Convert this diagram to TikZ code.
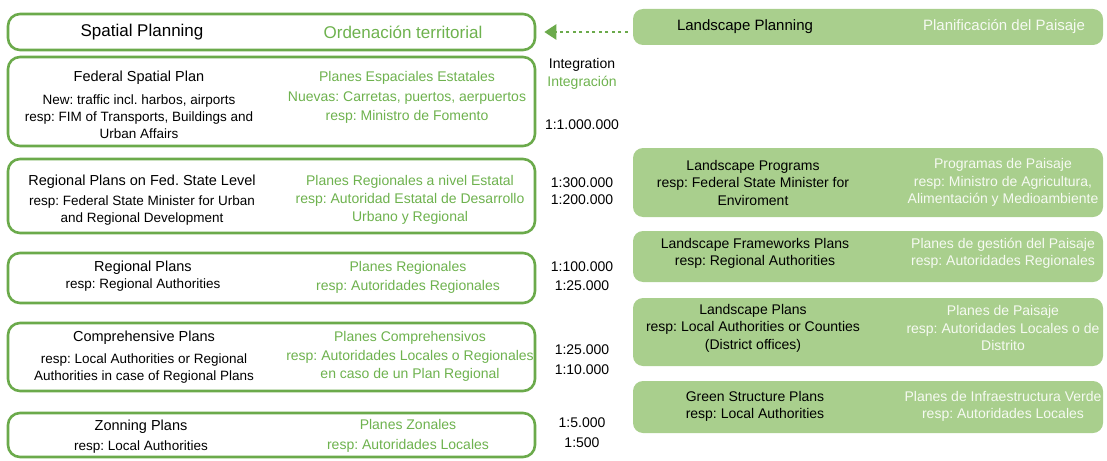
\documentclass[tikz,border=0pt]{standalone}
\usepackage{fontspec}
\setmainfont{Liberation Sans}
\usetikzlibrary{arrows.meta}
\frenchspacing

\definecolor{outl}{HTML}{6BAA4B}
\definecolor{spgreen}{HTML}{6EB24E}
\definecolor{landfill}{HTML}{A9CF8D}
\definecolor{landtext}{HTML}{F6FAF2}

\newcommand{\fs}[2]{\fontsize{#1}{#2}\selectfont}

\tikzset{
  planbox/.style={draw=outl, line width=2.6pt, rounded corners=12pt, fill=white,
    minimum width=527pt, inner sep=0pt},
  landbox/.style={fill=landfill, rounded corners=10pt, minimum width=470pt, inner sep=0pt},
  entitle/.style={text=black, align=center, inner sep=0pt, font=\fs{14.5}{16}},
  endetail/.style={text=black, align=center, inner sep=0pt, font=\fs{13.5}{16}},
  estxt/.style={text=spgreen, align=center, inner sep=0pt},
  lantxt/.style={text=black, align=center, inner sep=0pt},
  lestxt/.style={text=landtext, align=center, inner sep=0pt},
  scaletxt/.style={text=black, align=center, inner sep=0pt},
  intarrow/.style={draw=outl, line width=2.4pt, dash pattern=on 3pt off 3.5pt,
    -{Triangle[length=12pt,width=15pt,fill=outl]}, shorten <=5pt, shorten >=8pt}
}

\begin{document}
\begin{tikzpicture}[x=1pt,y=-1pt]
\useasboundingbox (0,0) rectangle (1107,460);

% spatial planning boxes
\node[planbox, minimum height=36pt] (p1) at (271.5,32) {};
\node[planbox, minimum height=89pt] (p2) at (271.5,101.5) {};
\node[planbox, minimum height=74pt] (p3) at (271.5,196) {};
\node[planbox, minimum height=50pt] (p4) at (271.5,278) {};
\node[planbox, minimum height=68pt] (p5) at (271.5,357) {};
\node[planbox, minimum height=44pt] (p6) at (271.5,435) {};

% landscape planning boxes
\node[landbox, minimum height=36pt] (l1) at (868,27) {};
\node[landbox, minimum height=69pt] (l2) at (868,182.5) {};
\node[landbox, minimum height=51pt] (l3) at (868,256.5) {};
\node[landbox, minimum height=68pt] (l4) at (868,332) {};
\node[landbox, minimum height=52pt] (l5) at (868,407) {};

% texts of the spatial planning boxes
\node[entitle, font=\fs{17}{18}] (t1e) at (142,32) {Spatial Planning};
\node[estxt, font=\fs{17}{18}] (t1s) at (403,32) {Ordenación territorial};

\node[entitle] (t2e) at (139,78) {Federal Spatial Plan};
\node[endetail, font=\fs{13.5}{17}] (t2d) at (139,117) {New: traffic incl. harbos, airports\\resp: FIM of Transports, Buildings and\\Urban Affairs};
\node[estxt, font=\fs{14}{19.5}] (t2s) at (407,97.5) {Planes Espaciales Estatales\\Nuevas: Carretas, puertos, aerpuertos\\resp: Ministro de Fomento};

\node[entitle] (t3e) at (142,182) {Regional Plans on Fed. State Level};
\node[endetail, font=\fs{13.5}{16.5}] (t3d) at (142,210.5) {resp: Federal State Minister for Urban\\and Regional Development};
\node[estxt, font=\fs{14}{18}] (t3s) at (410,200) {Planes Regionales a nivel Estatal\\resp: Autoridad Estatal de Desarrollo\\Urbano y Regional};

\node[entitle] (t4e) at (143,268) {Regional Plans};
\node[endetail] (t4d) at (143,285) {resp: Regional Authorities};
\node[estxt, font=\fs{14}{19}] (t4s) at (408,277.5) {Planes Regionales\\resp: Autoridades Regionales};

\node[entitle] (t5e) at (144,338) {Comprehensive Plans};
\node[endetail, font=\fs{13.5}{16.5}] (t5d) at (144,368.5) {resp: Local Authorities or Regional\\Authorities in case of Regional Plans};
\node[estxt, font=\fs{14}{18.5}] (t5s) at (410,356.5) {Planes Comprehensivos\\resp: Autoridades Locales o Regionales\\en caso de un Plan Regional};

\node[entitle] (t6e) at (141,427) {Zonning Plans};
\node[endetail] (t6d) at (141,447) {resp: Local Authorities};
\node[estxt, font=\fs{14}{20}] (t6s) at (408,436) {Planes Zonales\\resp: Autoridades Locales};

% texts of the landscape planning boxes
\node[lantxt, font=\fs{15}{16}] (u1e) at (745,27) {Landscape Planning};
\node[lestxt, font=\fs{15}{16}] (u1s) at (1004,27) {Planificación del Paisaje};

\node[lantxt, font=\fs{14}{17.5}] (u2e) at (753,182.5) {Landscape Programs\\resp: Federal State Minister for\\Enviroment};
\node[lestxt, font=\fs{14}{17.5}] (u2s) at (1003,182.5) {Programas de Paisaje\\resp: Ministro de Agricultura,\\Alimentación y Medioambiente};

\node[lantxt, font=\fs{14}{17.5}] (u3e) at (755,253.5) {Landscape Frameworks Plans\\resp: Regional Authorities};
\node[lestxt, font=\fs{14}{17.5}] (u3s) at (1003,253.5) {Planes de gestión del Paisaje\\resp: Autoridades Regionales};

\node[lantxt, font=\fs{14}{17.5}] (u4e) at (753,328) {Landscape Plans\\resp: Local Authorities or Counties\\(District offices)};
\node[lestxt, font=\fs{14}{17.5}] (u4s) at (1003,328) {Planes de Paisaje\\resp: Autoridades Locales o de\\Distrito};

\node[lantxt, font=\fs{14}{17.5}] (u5e) at (755,406.5) {Green Structure Plans\\resp: Local Authorities};
\node[lestxt, font=\fs{14}{17.5}] (u5s) at (1003,406.5) {Planes de Infraestructura Verde\\resp: Autoridades Locales};

% integration and scales
\node[scaletxt, font=\fs{14}{18}] (sint) at (582,74) {Integration\\\textcolor{spgreen}{Integración}};
\node[scaletxt, font=\fs{14}{17}] (s1) at (582,125) {1:1.000.000};
\node[scaletxt, font=\fs{14}{17}] (s2) at (582,191.5) {1:300.000\\1:200.000};
\node[scaletxt, font=\fs{14}{19}] (s3) at (582,276.5) {1:100.000\\1:25.000};
\node[scaletxt, font=\fs{14}{20}] (s4) at (582,360) {1:25.000\\1:10.000};
\node[scaletxt, font=\fs{14}{20}] (s5) at (582,433) {1:5.000\\1:500};

% integration arrow
\draw[intarrow] (l1.west |- p1.east) -- (p1.east);
\end{tikzpicture}
\end{document}
